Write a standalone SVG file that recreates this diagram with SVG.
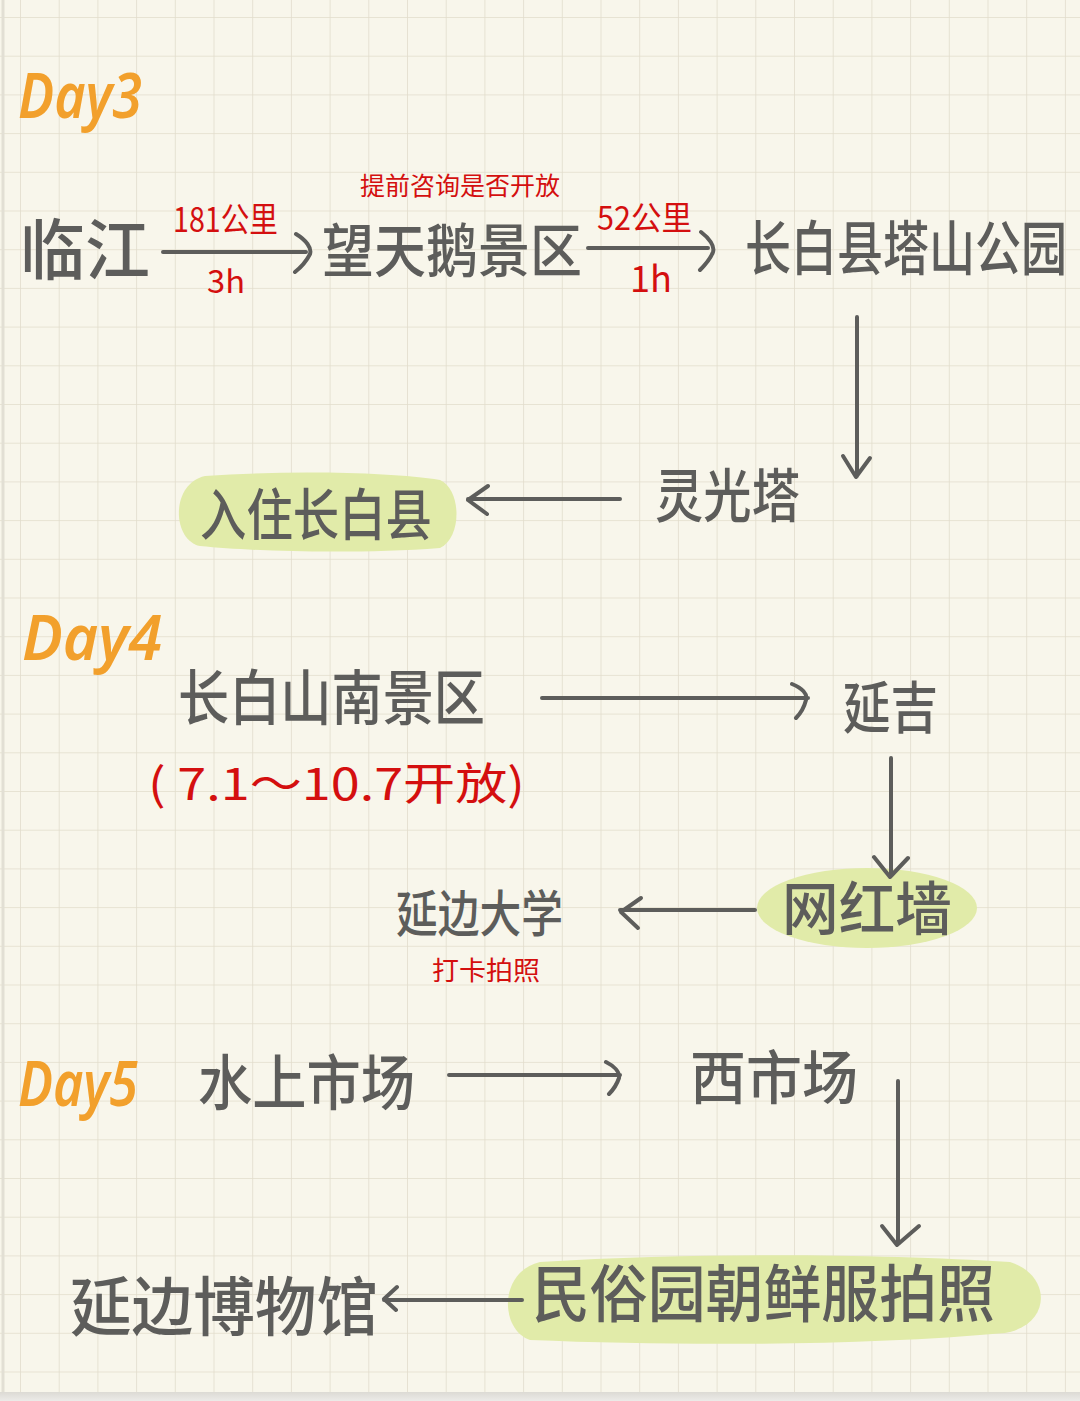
<svg xmlns="http://www.w3.org/2000/svg" width="1080" height="1401" viewBox="0 0 1080 1401">
<defs>
<pattern id="grid" x="20" y="17" width="38.7" height="38.7" patternUnits="userSpaceOnUse">
<path d="M0 0 H38.7 M0 0 V38.7" stroke="#e2ddcc" stroke-width="1.6" fill="none"/>
</pattern>
<linearGradient id="shadow" x1="0" y1="0" x2="0" y2="1">
<stop offset="0" stop-color="#dcdad4"/>
<stop offset="1" stop-color="#ecebe8"/>
</linearGradient>
<style>
.node{font-family:"Noto Sans CJK SC","Noto Sans",sans-serif;font-weight:500;fill:#5d5d5b;}
.red{font-family:"Noto Sans CJK SC","Noto Sans",sans-serif;font-weight:400;fill:#d40f0f;}
.day{font-family:"Noto Sans","Liberation Sans",sans-serif;font-weight:600;fill:#f2a02c;}
.hl{fill:#e1eba9;}
.ln{stroke:#5d5d5b;stroke-width:4;fill:none;stroke-linecap:round;stroke-linejoin:round;}
</style>
</defs>
<rect x="0" y="0" width="1080" height="1401" fill="#f8f6eb"/>
<rect x="0" y="0" width="1080" height="1392" fill="url(#grid)"/>
<line x1="3" y1="0" x2="3" y2="1392" stroke="#e2dfd4" stroke-width="3"/>
<rect x="0" y="1392" width="1080" height="9" fill="url(#shadow)"/>

<g id="day3"><text class="day" x="18" y="118" font-size="64" textLength="124" lengthAdjust="spacingAndGlyphs" font-style="italic">Day3</text></g>
<g id="day4"><text class="day" x="22" y="660" font-size="64" textLength="140" lengthAdjust="spacingAndGlyphs" font-style="italic">Day4</text></g>
<g id="day5"><text class="day" x="18" y="1106" font-size="64" textLength="120" lengthAdjust="spacingAndGlyphs" font-style="italic">Day5</text></g>

<g id="highlights">
<path class="hl" d="M205 476 C290 470 390 472 440 480 C462 490 462 538 440 548 C360 554 260 552 200 546 C172 540 170 484 205 476 Z"/>
<ellipse class="hl" cx="867" cy="908" rx="110" ry="40"/>
<path class="hl" d="M540 1262 C700 1252 880 1254 1010 1262 C1052 1275 1052 1325 1005 1333 C860 1346 680 1346 530 1340 C500 1330 498 1272 540 1262 Z"/>
</g>

<g id="n-linjiang"><text class="node" x="20" y="274" font-size="66" textLength="130" lengthAdjust="spacingAndGlyphs">临江</text></g>
<g id="n-wangtiane"><text class="node" transform="translate(322 272) scale(1 1.12)" x="0" y="0" font-size="52">望天鹅景区</text>
<text class="red" x="360" y="195" font-size="25">提前咨询是否开放</text></g>
<g id="n-tashan"><text class="node" transform="translate(745 270) scale(1 1.28)" x="0" y="0" font-size="46">长白县塔山公园</text></g>
<g id="n-lingguang"><text class="node" x="655" y="517" font-size="58" textLength="145" lengthAdjust="spacingAndGlyphs">灵光塔</text></g>
<g id="n-ruzhu"><text class="node" x="200" y="535" font-size="56" textLength="232" lengthAdjust="spacingAndGlyphs">入住长白县</text></g>

<g id="n-changbaishan"><text class="node" x="178" y="720" font-size="60" textLength="307" lengthAdjust="spacingAndGlyphs">长白山南景区</text>
<text class="red" x="148" y="800" font-size="44" textLength="377" lengthAdjust="spacingAndGlyphs">( 7.1～10.7开放)</text></g>
<g id="n-yanji"><text class="node" x="843" y="728" font-size="56" textLength="95" lengthAdjust="spacingAndGlyphs">延吉</text></g>
<g id="n-wanghong"><text class="node" x="782" y="930" font-size="58" textLength="170" lengthAdjust="spacingAndGlyphs">网红墙</text></g>
<g id="n-yanda"><text class="node" x="396" y="932" font-size="50" textLength="167" lengthAdjust="spacingAndGlyphs">延边大学</text>
<text class="red" x="432" y="980" font-size="26" textLength="108" lengthAdjust="spacingAndGlyphs">打卡拍照</text></g>

<g id="n-shuishang"><text class="node" x="198" y="1105" font-size="60" textLength="217" lengthAdjust="spacingAndGlyphs">水上市场</text></g>
<g id="n-xishichang"><text class="node" x="690" y="1099" font-size="58" textLength="168" lengthAdjust="spacingAndGlyphs">西市场</text></g>
<g id="n-minsu"><text class="node" x="532" y="1317" font-size="62" textLength="463" lengthAdjust="spacingAndGlyphs">民俗园朝鲜服拍照</text></g>
<g id="n-bowuguan"><text class="node" x="70" y="1330" font-size="64" textLength="308" lengthAdjust="spacingAndGlyphs">延边博物馆</text></g>

<g id="connectors">
<path class="ln" d="M163 252 H306 M296 234 C306 240 312 248 310 254 C306 262 300 268 295 272"/>
<text class="red" x="173" y="232" font-size="34" textLength="105" lengthAdjust="spacingAndGlyphs">181公里</text>
<text class="red" x="207" y="293" font-size="32" textLength="38" lengthAdjust="spacingAndGlyphs">3h</text>
<path class="ln" d="M588 248 H708 M701 232 C709 238 715 246 713 252 C710 260 705 265 700 270"/>
<text class="red" x="597" y="230" font-size="33" textLength="95" lengthAdjust="spacingAndGlyphs">52公里</text>
<text class="red" x="630" y="292" font-size="36" textLength="42" lengthAdjust="spacingAndGlyphs">1h</text>
<path class="ln" d="M857 317 V476 M843 456 L856 477 L870 458"/>
<path class="ln" d="M620 499 H468 M488 486 L468 500 L487 514"/>
<path class="ln" d="M542 698 H808 M792 684 C802 688 808 694 806 700 C804 708 800 714 796 718"/>
<path class="ln" d="M891 758 V874 M874 857 L890 877 L908 858"/>
<path class="ln" d="M755 910 H620 M641 898 L621 912 L638 928"/>
<path class="ln" d="M449 1075 H620 M606 1062 C614 1066 620 1072 619 1078 C617 1084 613 1090 609 1094"/>
<path class="ln" d="M898 1081 V1244 M882 1226 L897 1245 L919 1226"/>
<path class="ln" d="M522 1300 H384 M397 1287 L384 1299 L396 1310"/>
</g>
</svg>
